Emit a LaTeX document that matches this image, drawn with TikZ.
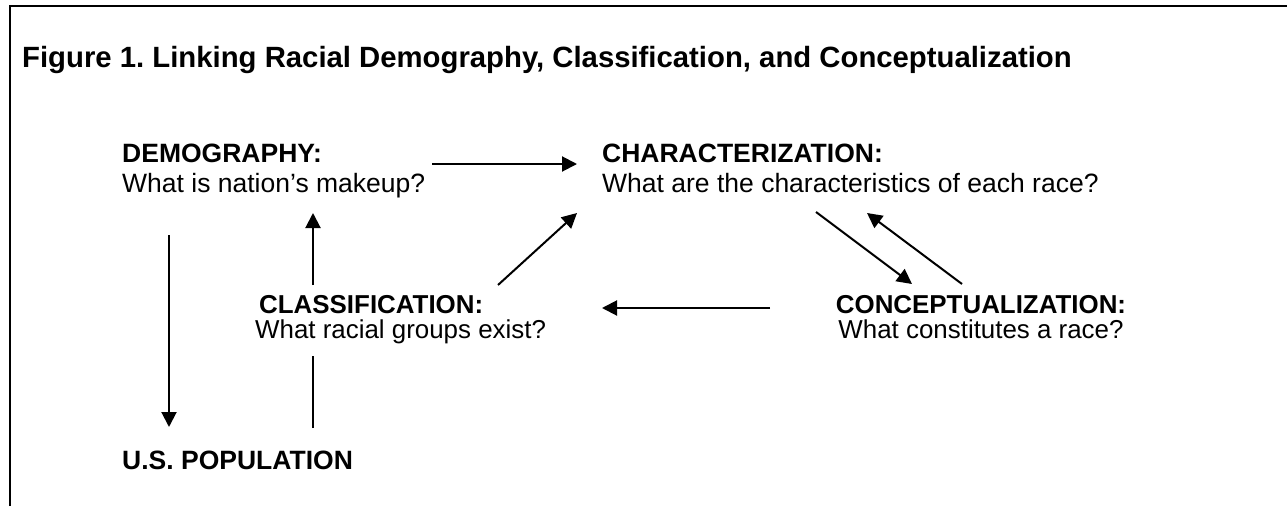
\documentclass[tikz,border=0pt]{standalone}
\usepackage{fontspec}
\setmainfont{Liberation Sans}
\usetikzlibrary{arrows.meta}
\begin{document}
\frenchspacing
\begin{tikzpicture}[x=1pt,y=-1pt,
  txt/.style={inner sep=0pt, anchor=base west, font=\fontsize{26.5}{29}\selectfont},
  hd/.style={inner sep=0pt, anchor=base west, font=\bfseries\fontsize{26.5}{29}\selectfont},
  txtm/.style={inner sep=0pt, anchor=base west, font=\fontsize{25.9}{29}\selectfont},
  hdm/.style={inner sep=0pt, anchor=base west, font=\bfseries\fontsize{25.9}{29}\selectfont},
  ttl/.style={inner sep=0pt, anchor=base west, font=\bfseries\fontsize{29.3}{34}\selectfont},
  conn/.style={line width=2pt, -{Triangle[length=15pt,width=15pt]}},
  plainline/.style={line width=2pt},
  frameline/.style={line width=2pt}]
\useasboundingbox (0,0) rectangle (1287,506);
% frame (top and left sides only)
\coordinate (fBL) at (10,506);
\coordinate (fTL) at (10,6);
\coordinate (fTR) at (1287,6);
\draw[frameline] (fBL) -- (fTL) -- (fTR);
% texts
\node[ttl] (title) at (22,67) {Figure 1. Linking Racial Demography, Classification, and Conceptualization};
\node[hd] (demoH) at (122,162) {DEMOGRAPHY:};
\node[txt] (demoQ) at (122,192) {What is nation’s makeup?};
\node[hd] (charH) at (602,162) {CHARACTERIZATION:};
\node[txt] (charQ) at (602,192) {What are the characteristics of each race?};
\node[hdm] (classH) at (259,313) {CLASSIFICATION:};
\node[txtm] (classQ) at (255,338) {What racial groups exist?};
\node[hdm, anchor=base] (concH) at (981,313) {CONCEPTUALIZATION:};
\node[txtm, anchor=base] (concQ) at (981,338) {What constitutes a race?};
\node[hd] (usp) at (122,469) {U.S. POPULATION};
% connector end points
\coordinate (dcS) at (432,164);
\coordinate (dcE) at (577,164);
\coordinate (duS) at (169,235);
\coordinate (duE) at (169,427);
\coordinate (cdS) at (313,285);
\coordinate (cdE) at (313,213);
\coordinate (ucS) at (313,428);
\coordinate (ucE) at (313,356);
\coordinate (clchS) at (498,285);
\coordinate (clchE) at (577,213);
\coordinate (coclS) at (770,308);
\coordinate (coclE) at (602,308);
\coordinate (chcoS) at (816,212);
\coordinate (chcoE) at (912,284);
\coordinate (cochS) at (962,284);
\coordinate (cochE) at (867,213);
% connectors
\draw[conn] (dcS) -- (dcE);
\draw[conn] (duS) -- (duE);
\draw[conn] (cdS) -- (cdE);
\draw[plainline] (ucS) -- (ucE);
\draw[conn] (clchS) -- (clchE);
\draw[conn] (coclS) -- (coclE);
\draw[conn] (chcoS) -- (chcoE);
\draw[conn] (cochS) -- (cochE);
\end{tikzpicture}
\end{document}
